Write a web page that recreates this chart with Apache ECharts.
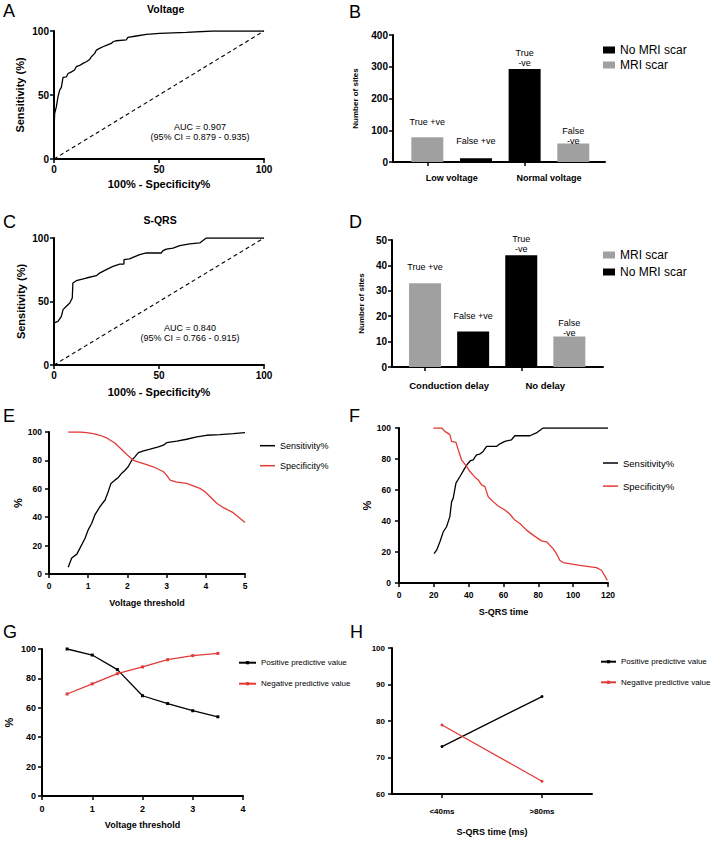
<!DOCTYPE html>
<html><head><meta charset="utf-8">
<script src="https://cdn.jsdelivr.net/npm/echarts@6/dist/echarts.min.js"></script>
<style>html,body{margin:0;padding:0;background:#fff}#c{width:717px;height:842px}</style>
</head><body><div id="c"></div>
<script>
// ---------------- DATA ----------------
// A: ROC voltage
const rocA_x = [0, 0, 0.3, 1.1, 1.9, 2.7, 3.5, 4.3, 5.9, 6.7, 8.3, 9.8, 10.6, 12.2, 13.8, 15.4, 17.0, 17.8, 19.4, 20.2, 21.7, 23.3, 24.9, 27.3, 28.1, 29.7, 34.4, 35.2, 39.2, 44.0, 50.3, 63.0, 75.7, 100];
const rocA_y = [0, 20, 35.5, 40.7, 48.6, 53.8, 55.9, 63.7, 64.2, 66.8, 68.1, 69.5, 72.1, 73.1, 74.7, 76.0, 77.8, 79.9, 82.5, 85.1, 86.4, 87.7, 88.8, 90.3, 91.6, 92.4, 93.0, 95.0, 96.1, 97.4, 98.2, 99.0, 100, 100];
// C: ROC S-QRS
const rocC_x = [0, 0, 1.9, 3.5, 4.3, 5.9, 7.5, 8.7, 9.0, 10.6, 15.4, 20.2, 21.7, 24.9, 28.1, 31.3, 33.3, 33.3, 36.0, 37.6, 40.8, 44.0, 51.1, 51.9, 53.5, 56.7, 59.9, 64.6, 69.4, 72.5, 100];
const rocC_y = [0, 33.1, 34.4, 38.3, 43.6, 46.2, 48.8, 52.8, 64.6, 66.4, 68.5, 70.3, 72.4, 75.1, 77.7, 79.5, 79.5, 82.9, 83.5, 84.8, 86.9, 88.2, 88.2, 90.0, 91.3, 92.1, 94.0, 95.3, 96.1, 100, 100];
const diag_x = [0, 100];
const diag_y = [0, 100];
const aucA = 'AUC = 0.907\n(95% CI = 0.879 - 0.935)';
const aucC = 'AUC = 0.840\n(95% CI = 0.766 - 0.915)';

// B: bars voltage
const B_categories = ['Low voltage', 'Normal voltage'];
const B_groups = ['True +ve', 'False +ve', 'True\n-ve', 'False\n-ve'];
const B_noScar = [null, 12, 293, null];
const B_scar = [78, null, null, 58];

// D: bars S-QRS
const D_categories = ['Conduction delay', 'No delay'];
const D_groups = ['True +ve', 'False +ve', 'True\n-ve', 'False\n-ve'];
const D_scar = [33, null, null, 12];
const D_noScar = [null, 14, 44, null];

// E: voltage threshold curves
const E_sens_x = [0.49, 0.58, 0.71, 0.79, 0.92, 1.0, 1.09, 1.17, 1.30, 1.43, 1.51, 1.58, 1.68, 1.77, 1.85, 1.94, 2.02, 2.11, 2.19, 2.28, 2.41, 2.58, 2.79, 2.92, 3.0, 3.26, 3.51, 3.77, 4.02, 4.36, 4.70, 5.0];
const E_sens_y = [4.7, 11.2, 14.0, 18.2, 25.2, 31.1, 35.7, 41.6, 47.4, 52.1, 57.9, 63.8, 66.1, 68.0, 70.8, 73.1, 75.5, 80.1, 82.5, 85.5, 86.7, 87.9, 89.5, 90.7, 92.5, 93.5, 94.9, 96.5, 97.7, 98.1, 98.8, 99.5];
const E_spec_x = [0.49, 0.79, 0.96, 1.13, 1.30, 1.47, 1.68, 1.90, 2.02, 2.15, 2.41, 2.66, 2.92, 3.0, 3.09, 3.26, 3.51, 3.85, 3.98, 4.11, 4.28, 4.45, 4.70, 4.87, 5.0];
const E_spec_y = [100, 100, 99.5, 98.8, 97.7, 95.8, 92.3, 86.4, 83.2, 80.1, 77.8, 75.5, 72.0, 69.6, 66.1, 64.7, 63.8, 60.3, 57.9, 54.4, 49.8, 46.7, 43.2, 39.3, 36.2];

// F: S-QRS time curves
const F_sens_x = [20.1, 21.6, 23.5, 25.4, 27.3, 29.2, 30.2, 31.1, 32.7, 35.0, 37.8, 39.7, 41.1, 42.6, 44.5, 46.4, 48.3, 50.3, 56.0, 57.9, 60.8, 64.6, 66.5, 75.1, 78.9, 82.7, 120];
const F_sens_y = [19.0, 21.2, 26.6, 33.0, 36.3, 42.8, 52.5, 54.6, 64.4, 68.7, 74.1, 77.3, 79.0, 79.5, 82.7, 83.2, 84.9, 88.1, 88.1, 89.8, 91.4, 92.4, 95.0, 95.0, 96.8, 100, 100];
const F_spec_x = [19.7, 24.5, 26.4, 29.2, 30.2, 32.7, 34.0, 35.9, 38.8, 40.7, 43.6, 45.5, 47.4, 49.3, 51.2, 54.1, 56.9, 60.8, 63.6, 66.5, 69.4, 73.2, 77.0, 81.8, 84.7, 88.5, 90.4, 92.3, 94.2, 103.8, 113.3, 116.2, 118.5, 119.6];
const F_spec_y = [100, 100, 97.8, 95.7, 91.4, 90.7, 86.0, 79.5, 75.2, 71.9, 68.3, 66.5, 63.3, 62.2, 55.7, 52.5, 49.7, 47.1, 44.5, 40.6, 38.4, 34.1, 30.9, 27.2, 26.6, 22.2, 19.0, 14.7, 13.2, 11.4, 9.9, 8.2, 3.9, 1.7];

// G: predictive values vs voltage threshold
const G_thresholds = [0.5, 1, 1.5, 2, 2.5, 3, 3.5];
const G_ppv = [100, 95.9, 86.0, 68.2, 62.9, 58.0, 53.9];
const G_npv = [69.4, 76.3, 83.2, 87.8, 92.7, 95.5, 97.0];

// H: predictive values vs S-QRS time
const H_categories = ['<40ms', '>80ms'];
const H_ppv = [73.0, 86.7];
const H_npv = [78.9, 63.5];

// ---------------- STYLE ----------------
const FONT = "'Liberation Sans', Arial, Helvetica, sans-serif";
const RED = '#e23b36', GRAY = '#a0a0a0', BLACK = '#000';
const B_labelDist = [10, 12, 1, -2];
const D_labelDist = [11, 10, 1, -1];

const pairs = (xs, ys) => xs.map((x, i) => [x, ys[i]]);
const nul = a => a.map(v => v == null ? '-' : v);

function axBase(fs, margin) {
  return {
    axisLine: {show: true, onZero: false, lineStyle: {color: BLACK, width: 2}},
    axisTick: {show: true, inside: false, length: 4, lineStyle: {color: BLACK, width: 1.5}},
    axisLabel: {color: BLACK, fontFamily: FONT, fontWeight: 'bold', fontSize: fs, margin: margin},
    splitLine: {show: false}
  };
}
function nameStyle(fs) {
  return {fontFamily: FONT, fontWeight: 'bold', fontSize: fs, color: BLACK};
}
function vAxis(grid, min, max, interval, fs, margin, extra) {
  return Object.assign({type: 'value', gridIndex: grid, min, max, interval}, axBase(fs, margin), extra || {});
}
function hidden(grid, min, max) {
  return {type: 'value', gridIndex: grid, min, max, show: false};
}
function lineOnly(grid) {
  return {type: 'value', gridIndex: grid, min: 0, max: 1,
    axisLine: {show: true, onZero: false, lineStyle: {color: BLACK, width: 2}},
    axisTick: {show: false}, axisLabel: {show: false}, splitLine: {show: false}};
}
function catTicks(grid, data) {
  return {type: 'category', gridIndex: grid, data: data, position: 'bottom',
    axisLine: {show: false},
    axisTick: {show: true, alignWithLabel: true, length: 4, lineStyle: {color: BLACK, width: 1.5}},
    axisLabel: {show: false}, splitLine: {show: false}};
}
function catLabels(grid, data, fs, margin) {
  return {type: 'category', gridIndex: grid, data: data, position: 'bottom',
    axisLine: {show: false}, axisTick: {show: false},
    axisLabel: {color: BLACK, fontFamily: FONT, fontWeight: 'bold', fontSize: fs, margin: margin, interval: 0},
    splitLine: {show: false}};
}
function barSeries(name, color, xi, yi, values, groups, dists) {
  return {
    type: 'bar', name, xAxisIndex: xi, yAxisIndex: yi, stack: 'g' + xi, barWidth: 32,
    itemStyle: {color}, color,
    data: nul(values).map((v, i) => ({value: v, label: {distance: dists[i]}})),
    label: {show: true, position: 'top', formatter: p => groups[p.dataIndex], fontFamily: FONT, fontSize: 9, color: BLACK, lineHeight: 10},
    animation: false
  };
}
function lineSeries(name, color, xi, yi, data, sym) {
  return {
    type: 'line', name, xAxisIndex: xi, yAxisIndex: yi, data, color,
    symbol: sym || 'none', symbolSize: 3, showSymbol: !!sym,
    lineStyle: {color, width: 1.3}, itemStyle: {color},
    animation: false
  };
}
function txt(x, y, text, font, align, lh) {
  return {type: 'text', x, y, silent: true,
    style: {text, font, fill: BLACK, align: align || 'left', verticalAlign: 'middle', lineHeight: lh}};
}

const option = {
  backgroundColor: '#fff',
  animation: false,
  grid: [
    {left: 54, top: 31, width: 210, height: 128},      // 0 A
    {left: 393, top: 35, width: 212, height: 127},     // 1 B axes
    {left: 403, top: 35, width: 194.6, height: 127},   // 2 B bars
    {left: 54, top: 238, width: 210, height: 127},     // 3 C
    {left: 392, top: 240, width: 211, height: 127},    // 4 D axes
    {left: 401, top: 240, width: 192.4, height: 127},  // 5 D bars
    {left: 49, top: 432, width: 196, height: 142},     // 6 E
    {left: 399, top: 428, width: 209, height: 155},    // 7 F
    {left: 42, top: 649, width: 201, height: 147},     // 8 G
    {left: 392, top: 648, width: 200, height: 146}     // 9 H
  ],
  xAxis: [
    vAxis(0, 0, 100, 50, 10, 5, {name: '100% - Specificity%', nameLocation: 'middle', nameGap: 19.5, nameTextStyle: nameStyle(11)}),
    lineOnly(1),
    catTicks(2, B_groups),
    catLabels(2, B_categories, 9, 11),
    vAxis(3, 0, 100, 50, 10, 5, {name: '100% - Specificity%', nameLocation: 'middle', nameGap: 21.5, nameTextStyle: nameStyle(11)}),
    lineOnly(4),
    catTicks(5, D_groups),
    catLabels(5, D_categories, 9.5, 13),
    vAxis(6, 0, 5, 1, 8.5, 7, {name: 'Voltage threshold', nameLocation: 'middle', nameGap: 24, nameTextStyle: nameStyle(9)}),
    vAxis(7, 0, 120, 20, 8.5, 7, {name: 'S-QRS time', nameLocation: 'middle', nameGap: 24.5, nameTextStyle: nameStyle(9)}),
    vAxis(8, 0, 4, 1, 9, 8, {name: 'Voltage threshold', nameLocation: 'middle', nameGap: 24, nameTextStyle: nameStyle(9)}),
    Object.assign({type: 'category', gridIndex: 9, data: H_categories}, axBase(8, 13),
      {axisTick: {show: true, alignWithLabel: true, length: 4, lineStyle: {color: BLACK, width: 1.5}},
       name: 'S-QRS time (ms)', nameLocation: 'middle', nameGap: 33.5, nameTextStyle: nameStyle(9)})
  ],
  yAxis: [
    vAxis(0, 0, 100, 50, 10, 5, {name: 'Sensitivity (%)', nameLocation: 'middle', nameGap: 28.5, nameTextStyle: nameStyle(11)}),
    vAxis(1, 0, 400, 100, 10, 5, {name: 'Number of sites', nameLocation: 'middle', nameGap: 34, nameTextStyle: nameStyle(8)}),
    hidden(2, 0, 400),
    vAxis(3, 0, 100, 50, 10, 5, {name: 'Sensitivity (%)', nameLocation: 'middle', nameGap: 28, nameTextStyle: nameStyle(11)}),
    vAxis(4, 0, 50, 10, 10, 5, {name: 'Number of sites', nameLocation: 'middle', nameGap: 27, nameTextStyle: nameStyle(8)}),
    hidden(5, 0, 50),
    vAxis(6, 0, 100, 20, 8.5, 7, {name: '%', nameLocation: 'middle', nameGap: 25.5, nameTextStyle: nameStyle(11)}),
    vAxis(7, 0, 100, 20, 8.5, 8, {name: '%', nameLocation: 'middle', nameGap: 21, nameTextStyle: nameStyle(11)}),
    vAxis(8, 0, 100, 20, 9, 6, {name: '%', nameLocation: 'middle', nameGap: 28, nameTextStyle: nameStyle(11)}),
    vAxis(9, 60, 100, 10, 8, 7)
  ],
  legend: [
    {data: ['No MRI scar', 'MRI scar'], orient: 'vertical', left: 598, top: 39, itemWidth: 12, itemHeight: 7, itemGap: 3, icon: 'rect',
     textStyle: {fontFamily: FONT, fontSize: 12, color: BLACK}, selectedMode: false},
    {data: ['MRI scar', 'No MRI scar'], orient: 'vertical', left: 598, top: 244, itemWidth: 12, itemHeight: 7, itemGap: 5, icon: 'rect',
     textStyle: {fontFamily: FONT, fontSize: 12, color: BLACK}, selectedMode: false},
    {data: ['Sensitivity%', 'Specificity%'], orient: 'vertical', left: 255, top: 436.2, itemWidth: 15, itemHeight: 1.5, itemGap: 11, icon: 'rect',
     textStyle: {fontFamily: FONT, fontSize: 9, color: BLACK}, selectedMode: false},
    {data: ['Sensitivity%', 'Specificity%'], orient: 'vertical', left: 598, top: 453, itemWidth: 15, itemHeight: 1.5, itemGap: 13.1, icon: 'rect',
     textStyle: {fontFamily: FONT, fontSize: 9.5, color: BLACK}, selectedMode: false},
    {data: ['Positive predictive value', 'Negative predictive value'], orient: 'vertical', left: 233, top: 653.7, itemWidth: 17, itemHeight: 4, itemGap: 13,
     textStyle: {fontFamily: FONT, fontSize: 8, color: BLACK}, selectedMode: false},
    {data: ['Positive predictive value', 'Negative predictive value'], orient: 'vertical', left: 595, top: 652.7, itemWidth: 15, itemHeight: 4, itemGap: 12.6,
     textStyle: {fontFamily: FONT, fontSize: 8, color: BLACK}, selectedMode: false}
  ],
  series: [
    lineSeries('ROC voltage', BLACK, 0, 0, pairs(rocA_x, rocA_y)),
    Object.assign(lineSeries('Reference A', BLACK, 0, 0, pairs(diag_x, diag_y)), {lineStyle: {color: BLACK, width: 1.1, type: [4, 3]}}),
    barSeries('No MRI scar', BLACK, 2, 2, B_noScar, B_groups, B_labelDist),
    barSeries('MRI scar', GRAY, 2, 2, B_scar, B_groups, B_labelDist),
    lineSeries('ROC S-QRS', BLACK, 4, 3, pairs(rocC_x, rocC_y)),
    Object.assign(lineSeries('Reference C', BLACK, 4, 3, pairs(diag_x, diag_y)), {lineStyle: {color: BLACK, width: 1.1, type: [4, 3]}}),
    barSeries('MRI scar', GRAY, 6, 5, D_scar, D_groups, D_labelDist),
    barSeries('No MRI scar', BLACK, 6, 5, D_noScar, D_groups, D_labelDist),
    lineSeries('Sensitivity%', BLACK, 8, 6, pairs(E_sens_x, E_sens_y)),
    lineSeries('Specificity%', RED, 8, 6, pairs(E_spec_x, E_spec_y)),
    lineSeries('Sensitivity%', BLACK, 9, 7, pairs(F_sens_x, F_sens_y)),
    lineSeries('Specificity%', RED, 9, 7, pairs(F_spec_x, F_spec_y)),
    lineSeries('Positive predictive value', BLACK, 10, 8, pairs(G_thresholds, G_ppv), 'rect'),
    lineSeries('Negative predictive value', RED, 10, 8, pairs(G_thresholds, G_npv), 'rect'),
    lineSeries('Positive predictive value', BLACK, 11, 9, H_ppv, 'circle'),
    lineSeries('Negative predictive value', RED, 11, 9, H_npv, 'circle')
  ],
  graphic: {elements: [
    txt(3, 10.5, 'A', '18px ' + FONT),
    txt(349, 11.5, 'B', '18px ' + FONT),
    txt(3, 221.5, 'C', '18px ' + FONT),
    txt(349, 221.5, 'D', '18px ' + FONT),
    txt(3, 415.5, 'E', '18px ' + FONT),
    txt(349, 415.5, 'F', '18px ' + FONT),
    txt(3, 631.5, 'G', '18px ' + FONT),
    txt(350, 631.5, 'H', '18px ' + FONT),
    txt(165.7, 9, 'Voltage', 'bold 10.5px ' + FONT, 'center'),
    txt(160, 220, 'S-QRS', 'bold 10.5px ' + FONT, 'center'),
    txt(200, 132, aucA, '9px ' + FONT, 'center', 10),
    txt(190, 333, aucC, '9px ' + FONT, 'center', 9.5)
  ]}
};

const chart = echarts.init(document.getElementById('c'), null, {renderer: 'svg', width: 717, height: 842});
chart.setOption(option);
</script>
</body></html>
